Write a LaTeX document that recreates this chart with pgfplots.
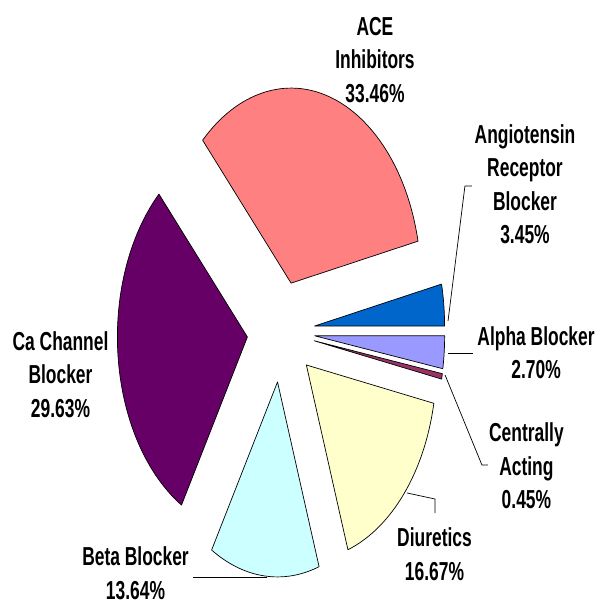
\documentclass[border=0pt]{standalone}
\usepackage{pgfplots}
\pgfplotsset{compat=1.18}
\usepackage{pgfplotstable}
\usepackage{fontspec}
\newfontfamily\lab{Liberation Sans}[FakeStretch=0.67]
\definecolor{cARB}{HTML}{0066CC}
\definecolor{cACE}{HTML}{FF8080}
\definecolor{cCa}{HTML}{660066}
\definecolor{cBeta}{HTML}{CCFFFF}
\definecolor{cDiu}{HTML}{FFFFCC}
\definecolor{cCen}{HTML}{993366}
\definecolor{cAlp}{HTML}{9999FF}
\tikzset{lbl/.style={font=\lab\bfseries\fontsize{13}{16.75}\selectfont, align=center, inner sep=0pt}}
\pgfplotstableread[col sep=comma]{
name,value,color
Angiotensin Receptor Blocker,3.45,cARB
ACE Inhibitors,33.46,cACE
Ca Channel Blocker,29.63,cCa
Beta Blocker,13.64,cBeta
Diuretics,16.67,cDiu
Centrally Acting,0.45,cCen
Alpha Blocker,2.70,cAlp
}\piedata
\begin{document}
\begin{tikzpicture}
\begin{axis}[
  hide axis, x=65pt, y=97.5pt,
  xmin=-2.1615, xmax=2.4538, ymin=-1.4128, ymax=1.7,
  clip=false,
]
\path (axis cs:-2.1615,-1.4128) rectangle (axis cs:2.4538,1.7);
\pgfplotstablegetrowsof{\piedata}
\pgfmathtruncatemacro{\nrows}{\pgfplotsretval-1}
\def\cum{0}
\pgfplotsforeachungrouped \i in {0,...,\nrows}{%
  \pgfplotstablegetelem{\i}{value}\of{\piedata}\let\val\pgfplotsretval
  \pgfplotstablegetelem{\i}{color}\of{\piedata}\let\col\pgfplotsretval
  \pgfmathsetmacro{\sa}{\cum*3.6}%
  \pgfmathsetmacro{\ea}{(\cum+\val)*3.6}%
  \pgfmathsetmacro{\ma}{(\sa+\ea)/2}%
  \pgfmathsetmacro{\dx}{0.26*cos(\ma)}%
  \pgfmathsetmacro{\dy}{0.26*sin(\ma)}%
  \pgfmathsetmacro{\sx}{\dx+cos(\sa)}%
  \pgfmathsetmacro{\sy}{\dy+sin(\sa)}%
  \edef\temp{\noexpand\filldraw[fill=\col, draw=black, line width=0.35pt, line join=round] (axis cs:\dx,\dy) -- (axis cs:\sx,\sy) arc[start angle=\sa, end angle=\ea, x radius=65pt, y radius=97.5pt] -- cycle;}%
  \temp
  \pgfmathsetmacro{\cum}{\cum+\val}%
}
% leader lines
\draw[line width=0.35pt] (axis cs:1.285,0.054) -- (axis cs:1.415,0.746) -- (axis cs:1.469,0.746);
\draw[line width=0.35pt] (axis cs:1.285,-0.110) -- (axis cs:1.477,-0.110);
\draw[line width=0.35pt] (axis cs:1.262,-0.223) -- (axis cs:1.546,-0.685) -- (axis cs:1.592,-0.685);
\draw[line width=0.35pt] (axis cs:0.969,-0.828) -- (axis cs:1.185,-0.859) -- (axis cs:1.185,-0.931);
\draw[line width=0.35pt] (axis cs:-0.108,-1.262) -- (axis cs:-0.677,-1.262);
% labels
\node[lbl] at (axis cs:0.723,1.392) {ACE\\Inhibitors\\33.46\%};
\node[lbl] at (axis cs:1.877,0.756) {Angiotensin\\Receptor\\Blocker\\3.45\%};
\node[lbl] at (axis cs:1.962,-0.108) {Alpha Blocker\\2.70\%};
\node[lbl] at (axis cs:1.888,-0.690) {Centrally\\Acting\\0.45\%};
\node[lbl] at (axis cs:1.181,-1.141) {Diuretics\\16.67\%};
\node[lbl] at (axis cs:-1.119,-1.240) {Beta Blocker\\13.64\%};
\node[lbl] at (axis cs:-1.696,-0.221) {Ca Channel\\Blocker\\29.63\%};
\end{axis}
\end{tikzpicture}
\end{document}
